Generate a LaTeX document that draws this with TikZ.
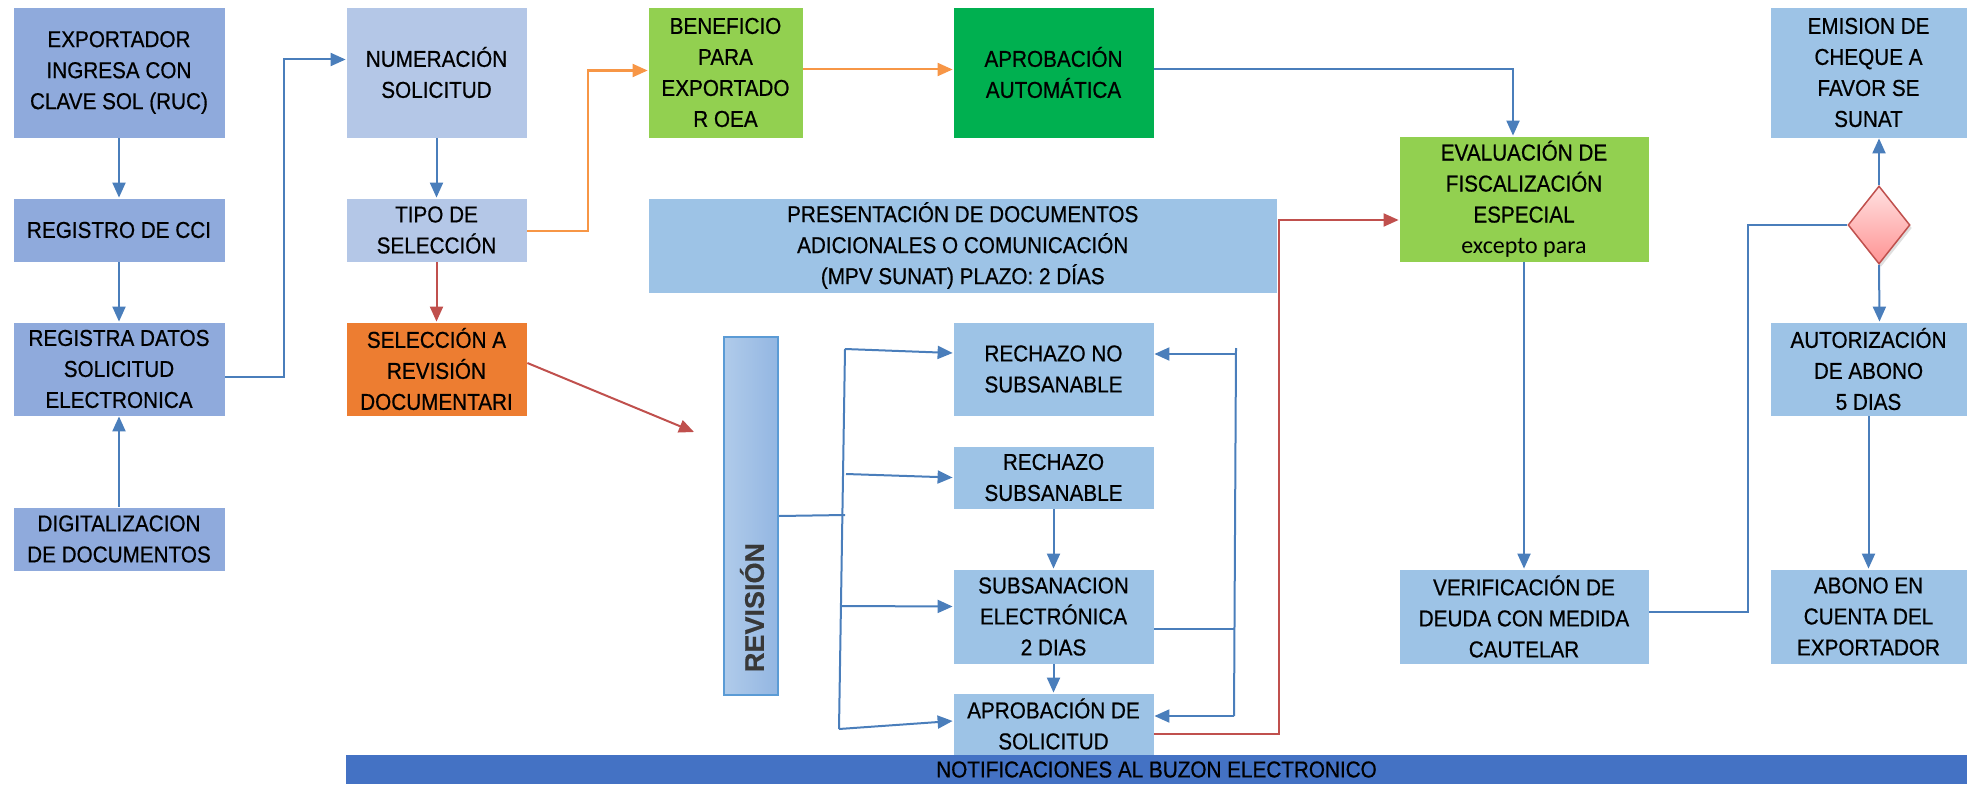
\documentclass[tikz,border=0pt]{standalone}
\usepackage{fontspec}
\setmainfont{Liberation Sans}[FakeStretch=0.9,FakeBold=0.6]
\newfontfamily\plainsans{Liberation Sans}[FakeBold=0.4]
\newfontfamily\calib{Carlito}
\usetikzlibrary{arrows.meta,shapes.geometric,calc,shadows}
\definecolor{leftblue}{HTML}{8FAADC}
\definecolor{numblue}{HTML}{B4C7E7}
\definecolor{boxblue}{HTML}{9DC3E6}
\definecolor{orangebox}{HTML}{ED7D31}
\definecolor{lgreen}{HTML}{92D050}
\definecolor{dgreen}{HTML}{00B050}
\definecolor{notifblue}{HTML}{4472C4}
\definecolor{lineblue}{HTML}{4A7EBB}
\definecolor{lineorange}{HTML}{F79646}
\definecolor{linered}{HTML}{C0504D}
\definecolor{revleft}{HTML}{B0CBEA}
\definecolor{revright}{HTML}{93B6E2}
\definecolor{revborder}{HTML}{5B9BD5}
\begin{document}
\begin{tikzpicture}[x=1pt,y=-1pt,
  box/.style={rectangle, draw=white, line width=0.8pt, inner sep=2pt, align=center, text=black,
    font=\fontsize{23}{31}\selectfont},
  barr/.style={draw=lineblue, line width=2pt, -{Triangle[length=15pt,width=13pt]}},
  bline/.style={draw=lineblue, line width=2pt},
  oarr/.style={draw=lineorange, line width=2pt, -{Triangle[length=15pt,width=13pt]}},
  rarr/.style={draw=linered, line width=2pt, -{Triangle[length=15pt,width=13pt]}},
  rline/.style={draw=linered, line width=2pt}]
\useasboundingbox (0,0) rectangle (1972,784);
% left column
\node[box, fill=leftblue, minimum width=212pt, minimum height=131pt] (ex) at (119,72.5) {EXPORTADOR\\INGRESA CON\\CLAVE SOL (RUC)};
\node[box, fill=leftblue, minimum width=212pt, minimum height=64pt] (cci) at (119,230) {REGISTRO DE CCI};
\node[box, fill=leftblue, minimum width=212pt, minimum height=94pt] (reg) at (119,369) {REGISTRA DATOS\\SOLICITUD\\ELECTRONICA};
\node[box, fill=leftblue, minimum width=212pt, minimum height=64pt] (dig) at (119,539) {DIGITALIZACION\\DE DOCUMENTOS};
% second column
\node[box, fill=numblue, minimum width=181pt, minimum height=131pt] (num) at (436.5,72.5) {NUMERACIÓN\\SOLICITUD};
\node[box, fill=numblue, minimum width=181pt, minimum height=64pt] (tipo) at (436.5,230) {TIPO DE\\SELECCIÓN};
\node[box, fill=orangebox, minimum width=181pt, minimum height=94pt] (sel) at (436.5,369) {SELECCIÓN A\\REVISIÓN\\DOCUMENTARI};
% top row
\node[box, fill=lgreen, minimum width=155pt, minimum height=131pt] (ben) at (725.5,72.5) {BENEFICIO\\PARA\\EXPORTADO\\R OEA};
\node[box, fill=dgreen, minimum width=201pt, minimum height=131pt] (aut) at (1053.5,72.5) {APROBACIÓN\\AUTOMÁTICA};
\node[box, fill=boxblue, minimum width=629.5pt, minimum height=95pt] (pres) at (962.75,245.5) {PRESENTACIÓN DE DOCUMENTOS\\ADICIONALES O COMUNICACIÓN\\(MPV SUNAT) PLAZO: 2 DÍAS};
\node[box, fill=lgreen, minimum width=250pt, minimum height=126pt] (eval) at (1524,199) {EVALUACIÓN DE\\FISCALIZACIÓN\\ESPECIAL\\{\calib\fontsize{24}{31}\selectfont excepto para}};
\node[box, fill=boxblue, minimum width=197pt, minimum height=131pt] (emis) at (1868.5,72.5) {EMISION DE\\CHEQUE A\\FAVOR SE\\SUNAT};
\node[diamond, draw=linered, line width=1.5pt, top color=red!12, bottom color=red!42!white, drop shadow={opacity=0.25, shadow xshift=2pt, shadow yshift=-3pt}, minimum width=62pt, minimum height=78pt, inner sep=0pt] (dia) at (1879,225) {};
\node[box, fill=boxblue, minimum width=197pt, minimum height=94pt] (autz) at (1868.5,369) {AUTORIZACIÓN\\DE ABONO\\5 DIAS};
\node[box, fill=boxblue, minimum width=197pt, minimum height=95pt] (abono) at (1868.5,616.5) {ABONO EN\\CUENTA DEL\\EXPORTADOR};
\node[box, fill=boxblue, minimum width=250pt, minimum height=95pt] (verif) at (1524,616.5) {VERIFICACIÓN DE\\DEUDA CON MEDIDA\\CAUTELAR};
% revision area
\node[rectangle, draw=revborder, line width=2pt, left color=revleft, right color=revright, minimum width=54pt, minimum height=358pt] (rev) at (751,516) {};
\node[rotate=90, text=black!78, font=\plainsans\bfseries\fontsize{27}{30}\selectfont] (revlbl) at (752,607.5) {REVISIÓN};
\node[box, fill=boxblue, minimum width=201pt, minimum height=94pt] (rns) at (1053.5,369) {RECHAZO NO\\SUBSANABLE};
\node[box, fill=boxblue, minimum width=201pt, minimum height=63pt] (rs) at (1053.5,477.5) {RECHAZO\\SUBSANABLE};
\node[box, fill=boxblue, minimum width=201pt, minimum height=95pt] (sub) at (1053.5,616.5) {SUBSANACION\\ELECTRÓNICA\\2 DIAS};
\node[box, fill=boxblue, minimum width=201pt, minimum height=62pt] (apr) at (1053.5,724) {APROBACIÓN DE\\SOLICITUD};
\node[rectangle, fill=notifblue, minimum width=1621pt, minimum height=29pt, inner sep=0pt, text=black, font=\fontsize{23}{28}\selectfont] (notif) at (1156.5,769.5) {NOTIFICACIONES AL BUZON ELECTRONICO};
% coordinates
\coordinate (revin) at (694,432);
\coordinate (ttop) at (845,349);
\coordinate (tmid) at (845,515);
\coordinate (t2) at (846,474);
\coordinate (t3) at (841,606);
\coordinate (tbot) at (839,729);
\coordinate (rtop) at (1236,348);
\coordinate (r1) at (1236,354);
\coordinate (rmid) at (1234,629);
\coordinate (rbot) at (1234,716);
\coordinate (redc) at (1279,734);
\coordinate (vc) at (1748,612);
% connectors left
\draw[barr] (ex.south) -- (cci.north);
\draw[barr] (cci.south) -- (reg.north);
\draw[barr] (dig.north) -- (reg.south);
\draw[barr] ([yshift=-8pt]reg.east) -- ++(59,0) |- ([yshift=13pt]num.west);
\draw[barr] (num.south) -- (tipo.north);
\draw[rarr] (tipo.south) -- (sel.north);
\draw[oarr] ([yshift=-1pt]tipo.east) -- ++(61,0) |- ([yshift=2pt]ben.west);
\draw[oarr] ([yshift=3pt]ben.east) -- ([yshift=3pt]aut.west);
\draw[barr] ([yshift=3pt]aut.east) -| ([xshift=-11pt]eval.north);
\draw[rarr] ([yshift=6pt]sel.east) -- (revin);
% revision connectors
\draw[bline] (ttop) -- (tbot);
\draw[bline] (rev.east) -- (tmid);
\draw[barr] (ttop) -- ([yshift=16pt]rns.west);
\draw[barr] (t2) -- (rs.west);
\draw[barr] (t3) -- ([yshift=10pt]sub.west);
\draw[barr] (tbot) -- ([yshift=3pt]apr.west);
\draw[barr] (rs.south) -- (sub.north);
\draw[barr] (sub.south) -- (apr.north);
\draw[bline] (rtop) -- (rbot);
\draw[barr] (r1) -- (rns.east |- r1);
\draw[bline] ([yshift=-12.5pt]sub.east) -- (rmid);
\draw[barr] (rbot) -- (apr.east |- rbot);
\draw[rarr] ([yshift=-10pt]apr.east) -- (redc) |- ([yshift=-21pt]eval.west);
% right side
\draw[barr] (eval.south) -- (verif.north);
\draw[bline] (verif.east |- vc) -- (vc) |- (dia.west);
\draw[barr] (dia.north) -- (dia.north |- emis.south);
\draw[barr] (dia.south) -- ([xshift=11pt]autz.north);
\draw[barr] (autz.south) -- (abono.north);
\end{tikzpicture}
\end{document}
